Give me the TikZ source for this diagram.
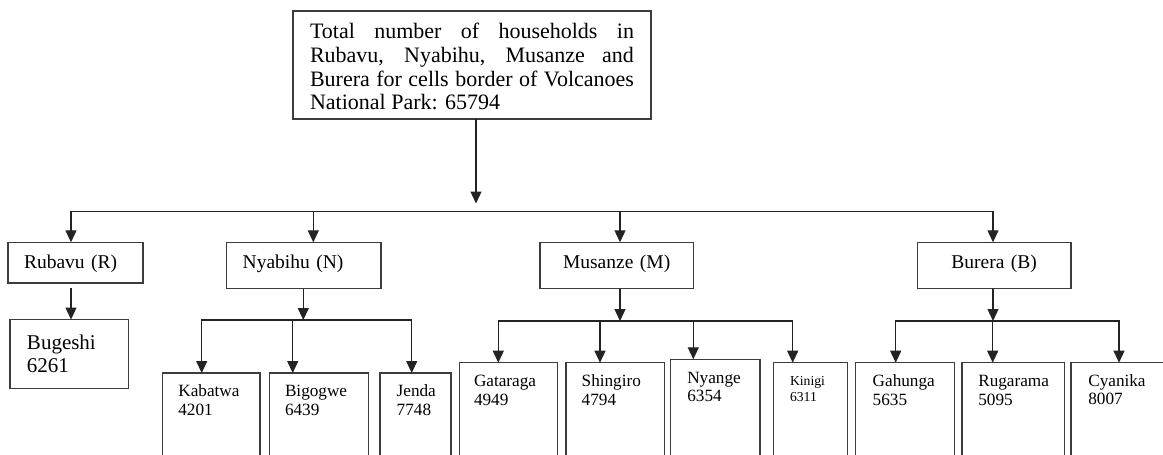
\documentclass[tikz,border=0pt]{standalone}
\usepackage{fontspec}
\setmainfont{Liberation Serif}
\usetikzlibrary{arrows.meta}
\definecolor{lncol}{RGB}{35,35,35}
\definecolor{bxcol}{RGB}{60,60,60}
\tikzset{
  ln/.style={draw=lncol, line width=1.2pt},
  busline/.style={ln, line cap=rect},
  arr/.style={ln, -{Triangle[length=12pt,width=11pt]}},
  bx/.style={draw=bxcol, line width=1.1pt, inner xsep=0pt, inner ysep=0pt, outer sep=0pt, anchor=north west, align=left},
  geom/.style n args={4}{minimum width=#1, text width=#2, text height=#3, text depth=#4},
  ftop/.style={font=\fontsize{22}{23.7}\selectfont},
  fmid/.style={font=\fontsize{19.5}{22}\selectfont},
  fbug/.style={font=\fontsize{21}{23}\selectfont},
  fleaf/.style={font=\fontsize{17.2}{18.3}\selectfont},
  fsmall/.style={font=\fontsize{13.7}{16.7}\selectfont}
}
\begin{document}
\begin{tikzpicture}[x=1pt,y=-1pt]
\useasboundingbox (0,0) rectangle (1163,455);
\clip (0,0) rectangle (1163,455);
\fill[white] (0,0) rectangle (1163,455);

% top box
\node[bx, ftop, align=justify, geom={358}{324}{27.7}{80.3}] (tot) at (293,11)
  {Total number of households in\linebreak Rubavu, Nyabihu, Musanze and\linebreak Burera for cells border of Volcanoes\linebreak National Park: 65794};

% district boxes
\node[bx, fmid, geom={135}{103}{26}{14.7}] (rub) at (8,242.3) {Rubavu (R)};
\node[bx, fmid, geom={154.3}{122.3}{26}{20.4}] (nya) at (226.7,242.3) {Nyabihu (N)};
\node[bx, fmid, align=center, geom={153.3}{120}{26}{20.4}] (mus) at (540,242.3) {Musanze (M)};
\node[bx, fmid, align=center, geom={153.7}{120}{26}{20.4}] (bur) at (917.3,242.3) {Burera (B)};

% cell boxes
\node[bx, fbug, geom={118.7}{84.7}{29.5}{39.5}] (bug) at (10,319.5) {Bugeshi\\6261};
\node[bx, fleaf, geom={97.3}{66}{23.7}{100}] (kab) at (162.7,373) {Kabatwa\\4201};
\node[bx, fleaf, geom={99}{67.6}{23.7}{100}] (big) at (269.3,373) {Bigogwe\\6439};
\node[bx, fleaf, geom={71}{37.6}{23.7}{100}] (jen) at (380,373) {Jenda\\7748};
\node[bx, fleaf, geom={98}{68.6}{24}{110}] (gat) at (459.3,362.7) {Gataraga\\4949};
\node[bx, fleaf, geom={98.3}{66.9}{24}{110}] (shi) at (566,362.7) {Shingiro\\4794};
\node[bx, fleaf, geom={89.3}{56.1}{24}{110}] (nyg) at (670.7,359.3) {Nyange\\6354};
\node[bx, fsmall, geom={74}{40.6}{22.3}{110}] (kin) at (773.3,362.7) {Kinigi\\6311};
\node[bx, fleaf, geom={98.6}{64.6}{24}{110}] (gah) at (855.7,362.7) {Gahunga\\5635};
\node[bx, fleaf, geom={102.3}{69.7}{24}{110}] (rug) at (962,362.7) {Rugarama\\5095};
\node[bx, fleaf, geom={120}{85.4}{23.3}{110}] (cya) at (1071,362.7) {Cyanika\\8007};

% top arrow and main bus
\coordinate (topend) at (476,203.5);
\draw[arr] (tot.south -| topend) -- (topend);
\coordinate (busL) at (71,211.7);
\coordinate (busN) at (313.3,211.7);
\coordinate (busM) at (620,211.7);
\coordinate (busR) at (993,211.7);
\draw[busline] (busL) -- (busR);
\draw[arr] (busL) -- (busL |- rub.north);
\draw[arr] (busN) -- (busN |- nya.north);
\draw[arr] (busM) -- (busM |- mus.north);
\draw[arr] (busR) -- (busR |- bur.north);

% Rubavu
\coordinate (rb0) at (71,288.3);
\draw[arr] (rb0) -- (rb0 |- bug.north);

% Nyabihu
\coordinate (nbus) at (303.3,320);
\coordinate (nbL) at (201.7,320);
\coordinate (nbM) at (292.7,320);
\coordinate (nbR) at (411.7,320);
\draw[arr] (nya.south -| nbus) -- (nbus);
\draw[busline] (nbL) -- (nbR);
\draw[arr] (nbL) -- (nbL |- kab.north);
\draw[arr] (nbM) -- (nbM |- big.north);
\draw[arr] (nbR) -- (nbR |- jen.north);

% Musanze
\coordinate (mbus) at (620,321);
\coordinate (mb1) at (498.3,321);
\coordinate (mb2) at (600,321);
\coordinate (mb3) at (693.3,321);
\coordinate (mb4) at (792.7,321);
\draw[arr] (mus.south -| mbus) -- (mbus);
\draw[busline] (mb1) -- (mb4);
\draw[arr] (mb1) -- (mb1 |- gat.north);
\draw[arr] (mb2) -- (mb2 |- shi.north);
\draw[arr] (mb3) -- (mb3 |- nyg.north);
\draw[arr] (mb4) -- (mb4 |- kin.north);

% Burera
\coordinate (bbus) at (993,321);
\coordinate (bb1) at (895.7,321);
\coordinate (bb2) at (992.7,321);
\coordinate (bb3) at (1119,321);
\draw[arr] (bur.south -| bbus) -- (bbus);
\draw[busline] (bb1) -- (bb3);
\draw[arr] (bb1) -- (bb1 |- gah.north);
\draw[arr] (bb2) -- (bb2 |- rug.north);
\draw[arr] (bb3) -- (bb3 |- cya.north);
\end{tikzpicture}
\end{document}
